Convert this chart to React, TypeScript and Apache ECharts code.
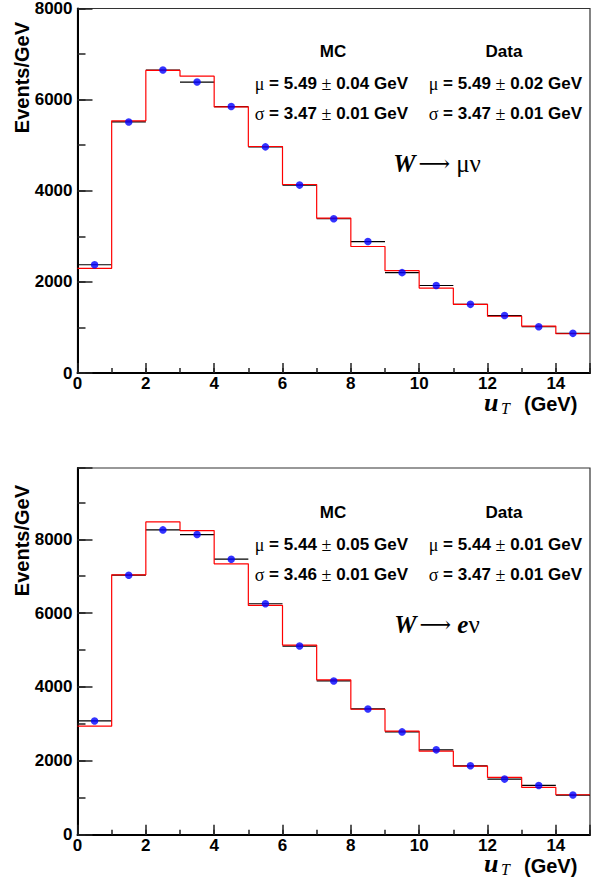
import React, { useEffect, useRef } from "react";
import * as echarts from "echarts";

// bin centres of u_T (GeV), bin width 1 GeV
const BIN_CENTERS = [0.5, 1.5, 2.5, 3.5, 4.5, 5.5, 6.5, 7.5, 8.5, 9.5, 10.5, 11.5, 12.5, 13.5, 14.5];
const BIN_HALF = 0.5;

// W -> mu nu
const MU_DATA = [2376, 5510, 6650, 6385, 5848, 4963, 4124, 3385, 2885, 2203, 1920, 1507, 1261, 1015, 870];
const MU_MC = [2298, 5535, 6640, 6515, 5840, 4971, 4137, 3398, 2776, 2246, 1863, 1507, 1246, 1029, 862];

// W -> e nu
const E_DATA = [3081, 7028, 8254, 8128, 7460, 6254, 5109, 4163, 3406, 2784, 2298, 1865, 1505, 1334, 1073];
const E_MC = [2938, 7038, 8470, 8236, 7335, 6209, 5136, 4190, 3397, 2803, 2262, 1856, 1551, 1280, 1082];

const X_MIN = 0;
const X_MAX = 15;
const MU_Y_MAX = 8000;
const E_Y_MAX = 9930;

const MU_STATS = { mcMu: "5.49", mcMuErr: "0.04", mcSig: "3.47", mcSigErr: "0.01", dMu: "5.49", dMuErr: "0.02", dSig: "3.47", dSigErr: "0.01" };
const E_STATS = { mcMu: "5.44", mcMuErr: "0.05", mcSig: "3.46", mcSigErr: "0.01", dMu: "5.44", dMuErr: "0.01", dSig: "3.47", dSigErr: "0.01" };

const MU_DECAY = "{a|μν}";
const E_DECAY = "{e|e}{a|ν}";

const SANS = "'Liberation Sans', Arial, sans-serif";
const SERIF = "'Liberation Serif', 'Times New Roman', serif";

function stepPoints(values: number[]) {
  const pts: number[][] = [];
  values.forEach((v, i) => {
    pts.push([BIN_CENTERS[i] - BIN_HALF, v]);
    pts.push([BIN_CENTERS[i] + BIN_HALF, v]);
  });
  return pts;
}

const labelStyle = { fontFamily: SANS, fontWeight: "bold" as const, fontSize: 17, color: "#000" };

function xAxes(gridIndex: number) {
  return [
    {
      type: "value", gridIndex, position: "bottom", min: X_MIN, max: X_MAX, interval: 2,
      axisLine: { show: true, onZero: false, lineStyle: { color: "#000", width: 2 } },
      axisTick: { show: true, inside: true, length: 10, lineStyle: { color: "#222", width: 1.5 } },
      axisLabel: { ...labelStyle, margin: 3, lineHeight: 15, formatter: (v: number) => (v % 2 === 0 ? String(v) : "") },
      splitLine: { show: false },
    },
    {
      type: "value", gridIndex, position: "bottom", min: X_MIN, max: X_MAX, interval: 1,
      axisLine: { show: false, onZero: false },
      axisTick: { show: true, inside: true, length: 5, lineStyle: { color: "#222", width: 1.5 } },
      axisLabel: { show: false },
      splitLine: { show: false },
    },
  ];
}

function yAxes(gridIndex: number, max: number) {
  return [
    {
      type: "value", gridIndex, position: "left", min: 0, max, interval: 2000,
      axisLine: { show: true, onZero: false, lineStyle: { color: "#000", width: 2 } },
      axisTick: { show: true, inside: true, length: 15, lineStyle: { color: "#222", width: 1.5 } },
      axisLabel: { ...labelStyle, margin: 5, formatter: (v: number) => (v % 2000 === 0 ? String(v) : "") },
      splitLine: { show: false },
    },
    {
      type: "value", gridIndex, position: "left", min: 0, max, interval: 1000,
      axisLine: { show: false, onZero: false },
      axisTick: { show: true, inside: true, length: 8, lineStyle: { color: "#222", width: 1.5 } },
      axisLabel: { show: false },
      splitLine: { show: false },
    },
  ];
}

function panelSeries(axisIndex: number, data: number[], mc: number[]) {
  return [
    {
      type: "custom",
      coordinateSystem: "cartesian2d",
      xAxisIndex: axisIndex,
      yAxisIndex: axisIndex,
      data: BIN_CENTERS.map((c, i) => [c, data[i]]),
      encode: { x: 0, y: 1 },
      renderItem: (_p: any, api: any) => {
        const x = api.value(0);
        const y = api.value(1);
        const a = api.coord([x - BIN_HALF, y]);
        const b = api.coord([x + BIN_HALF, y]);
        return {
          type: "line",
          shape: { x1: a[0], y1: a[1], x2: b[0], y2: b[1] },
          style: { stroke: "#000", lineWidth: 1.2 },
        };
      },
      z: 2,
    },
    {
      type: "line",
      xAxisIndex: axisIndex,
      yAxisIndex: axisIndex,
      data: stepPoints(mc),
      symbol: "none",
      lineStyle: { color: "#ff0000", width: 1.2 },
      z: 3,
    },
    {
      type: "scatter",
      xAxisIndex: axisIndex,
      yAxisIndex: axisIndex,
      data: BIN_CENTERS.map((c, i) => [c, data[i]]),
      symbol: "circle",
      symbolSize: 7.5,
      itemStyle: { color: "#0000ff" },
      z: 4,
    },
  ];
}

const rich = {
  b: { fontFamily: SANS, fontWeight: "bold", fontSize: 17, fill: "#000", color: "#000" },
  s: { fontFamily: SERIF, fontWeight: "normal", fontSize: 18, fill: "#000", color: "#000" },
};

function statLine(sym: string, val: string, err: string) {
  return `{s|${sym}}{b| = ${val} }{s|±}{b| ${err} GeV}`;
}

function panelTexts(stats: any, top: number, decay: string, axisY: number) {
  const t = (x: number, y: number, text: string, align: string) => ({
    type: "text",
    x, y,
    style: { text, rich, align, verticalAlign: "middle" },
    z: 10,
  });
  return [
    { type: "text", x: 333, y: top, style: { text: "MC", font: `bold 17px ${SANS}`, fill: "#000", align: "center", verticalAlign: "middle" }, z: 10 },
    { type: "text", x: 504, y: top, style: { text: "Data", font: `bold 17px ${SANS}`, fill: "#000", align: "center", verticalAlign: "middle" }, z: 10 },
    t(408, top + 32, statLine("μ", stats.mcMu, stats.mcMuErr), "right"),
    t(582, top + 32, statLine("μ", stats.dMu, stats.dMuErr), "right"),
    t(408, top + 62, statLine("σ", stats.mcSig, stats.mcSigErr), "right"),
    t(582, top + 62, statLine("σ", stats.dSig, stats.dSigErr), "right"),
    {
      type: "text", x: 437, y: top + 112,
      style: {
        text: `{w|W}{r|⟶}{a| }${decay}`,
        align: "center", verticalAlign: "middle",
        rich: {
          w: { fontFamily: SERIF, fontStyle: "italic", fontWeight: "bold", fontSize: 25, fill: "#000", color: "#000" },
          r: { fontFamily: "'DejaVu Serif', 'DejaVu Sans', serif", fontWeight: "normal", fontSize: 22, fill: "#000", color: "#000", padding: [0, 0, 0, 3] },
          a: { fontFamily: SERIF, fontWeight: "normal", fontSize: 25, fill: "#000", color: "#000" },
          e: { fontFamily: SERIF, fontStyle: "italic", fontWeight: "bold", fontSize: 25, fill: "#000", color: "#000" },
        },
      },
      z: 10,
    },
    // x-axis title u_T (GeV)
    { type: "text", x: 484, y: axisY + 29, style: { text: "u", font: `italic bold 26px ${SERIF}`, lineHeight: 16, fill: "#000", align: "left", verticalAlign: "middle" }, z: 10 },
    { type: "text", x: 501, y: axisY + 35, style: { text: "T", font: `italic 16px ${SERIF}`, lineHeight: 14, fill: "#000", align: "left", verticalAlign: "middle" }, z: 10 },
    { type: "text", x: 524, y: axisY + 31, style: { text: "(GeV)", font: `bold 20px ${SANS}`, lineHeight: 20, fill: "#000", align: "left", verticalAlign: "middle" }, z: 10 },
  ];
}

function yTitle(yEnd: number) {
  return {
    type: "text", x: 22, y: yEnd, rotation: Math.PI / 2,
    style: { text: "Events/GeV", font: `bold 20px ${SANS}`, fill: "#000", align: "right", verticalAlign: "middle" },
    z: 10,
  };
}

export default function App() {
  const ref = useRef<HTMLDivElement>(null);
  useEffect(() => {
    document.body.style.margin = "0";
    if (!ref.current) return;
    const chart = echarts.init(ref.current, undefined, { renderer: "svg" });
    const option: any = {
      animation: false,
      backgroundColor: "#fff",
      grid: [
        { left: 77.5, top: 5, width: 514, height: 368, show: true, borderColor: "#333", borderWidth: 1.2, containLabel: false },
        { left: 77.5, top: 468, width: 514, height: 366.7, show: true, borderColor: "#333", borderWidth: 1.2, containLabel: false },
      ],
      xAxis: [...xAxes(0), ...xAxes(1)],
      yAxis: [...yAxes(0, MU_Y_MAX), ...yAxes(1, E_Y_MAX)],
      series: [...panelSeries(0, MU_DATA, MU_MC), ...panelSeries(2, E_DATA, E_MC)],
      graphic: [
        ...panelTexts(MU_STATS, 51.7, MU_DECAY, 373),
        ...panelTexts(E_STATS, 512.7, E_DECAY, 834.7),
        yTitle(22),
        yTitle(485),
      ],
    };
    chart.setOption(option);
    return () => chart.dispose();
  }, []);
  return <div ref={ref} style={{ position: "absolute", left: 0, top: 0, width: 593, height: 878 }} />;
}
